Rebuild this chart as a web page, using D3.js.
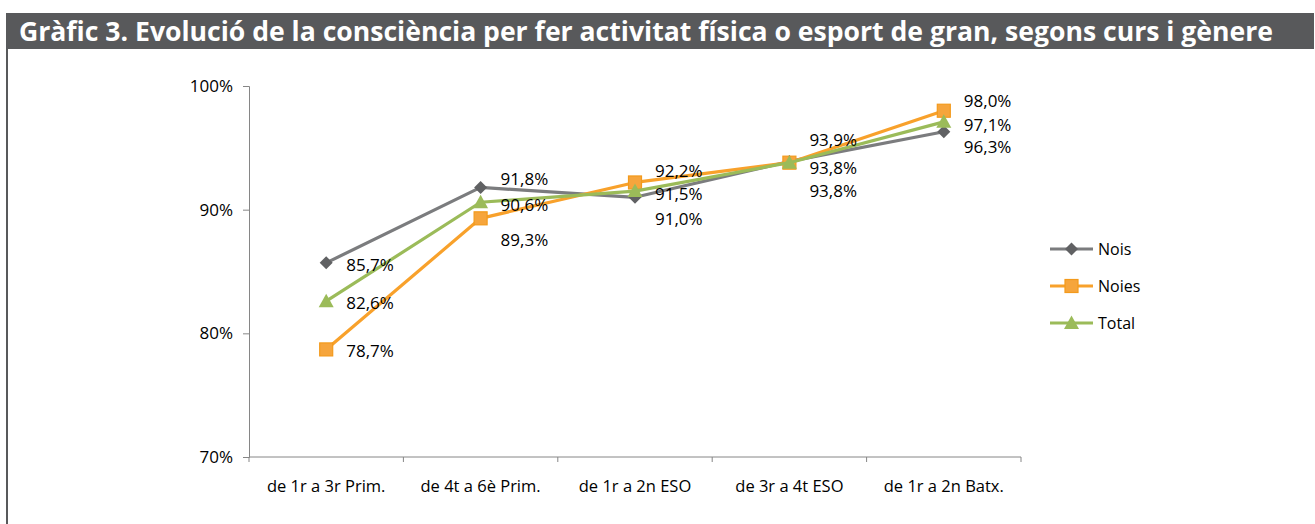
<!DOCTYPE html>
<html>
<head>
<meta charset="utf-8">
<script src="https://cdn.jsdelivr.net/npm/d3@7"></script>
<style>
  body { margin: 0; background: #fff; }
  svg { display: block; }
</style>
</head>
<body>
<script>
var width = 1315, height = 524;

var titleText = "Gràfic 3. Evolució de la consciència per fer activitat física o esport de gran, segons curs i gènere";
var cursos = ["de 1r a 3r Prim.", "de 4t a 6è Prim.", "de 1r a 2n ESO", "de 3r a 4t ESO", "de 1r a 2n Batx."];
var nois  = [85.7, 91.8, 91.0, 93.9, 96.3];
var noies = [78.7, 89.3, 92.2, 93.8, 98.0];
var total = [82.6, 90.6, 91.5, 93.8, 97.1];
var yTicks = [70, 80, 90, 100];

// vertical nudges of the value labels (px), so they don't sit on top of each other
var nudgeNois  = [2, -9, 22, -22, 15];
var nudgeNoies = [1, 22, -12, 5, -10];
var nudgeTotal = [2, 3, 3, 28, 3];

var series = [
  { name: "Nois",  values: nois,  nudge: nudgeNois,  line: "#7b7c7e", mark: "#606163", shape: "diamond" },
  { name: "Noies", values: noies, nudge: nudgeNoies, line: "#f8a12b", mark: "#f6a53c", shape: "square" },
  { name: "Total", values: total, nudge: nudgeTotal, line: "#9bbb59", mark: "#9bbb59", shape: "triangle" }
];

var svg = d3.select("body").append("svg")
    .attr("width", width)
    .attr("height", height);

// title bar + frame line
svg.append("rect")
    .attr("x", 6).attr("y", 13)
    .attr("width", 1308).attr("height", 36)
    .attr("fill", "#58595b");
svg.append("rect")
    .attr("x", 6).attr("y", 49)
    .attr("width", 2).attr("height", height - 49)
    .attr("fill", "#58595b");
svg.append("text")
    .attr("x", 19).attr("y", 41)
    .attr("fill", "#fff")
    .style("font-family", "'Open Sans', sans-serif")
    .style("font-weight", "bold")
    .style("font-size", "26px")
    .attr("textLength", 1254)
    .attr("lengthAdjust", "spacingAndGlyphs")
    .text(titleText);

var x = d3.scaleBand().domain(cursos).range([249, 1021]).padding(0);
var y = d3.scaleLinear().domain([70, 100]).range([457, 86]);

var font = "'Open Sans', sans-serif";

// y axis
var gy = svg.append("g").attr("transform", "translate(249,0)")
    .call(d3.axisLeft(y).tickValues(yTicks).tickSize(6).tickPadding(10)
      .tickFormat(function(d) { return d + "%"; }));
gy.select(".domain").attr("stroke", "#868686");
gy.selectAll(".tick line").attr("stroke", "#868686");
gy.selectAll("text").style("font-family", font).style("font-size", "17px").attr("fill", "#000");

// x axis (ticks on the category boundaries)
var gx = svg.append("g").attr("transform", "translate(0,457)");
gx.append("line").attr("x1", 249).attr("x2", 1021).attr("stroke", "#868686");
var bounds = cursos.map(function(c) { return x(c); }).concat([x.range()[1]]);
gx.selectAll(".xt").data(bounds).enter().append("line")
    .attr("x1", function(d) { return d; }).attr("x2", function(d) { return d; })
    .attr("y1", 0).attr("y2", 5).attr("stroke", "#868686");
gx.selectAll(".xl").data(cursos).enter().append("text")
    .attr("x", function(d) { return x(d) + x.bandwidth() / 2; })
    .attr("y", 35)
    .attr("text-anchor", "middle")
    .style("font-family", font).style("font-size", "16.5px")
    .attr("fill", "#000")
    .text(function(d) { return d; });

var cx = function(i) { return x(cursos[i]) + x.bandwidth() / 2; };

var line = d3.line()
    .x(function(d, i) { return cx(i); })
    .y(function(d) { return y(d); });

function drawMarker(g, shape, color, px, py) {
  if (shape === "diamond") {
    g.append("path")
      .attr("d", "M" + px + "," + (py - 6.5) + "L" + (px + 6.5) + "," + py + "L" + px + "," + (py + 6.5) + "L" + (px - 6.5) + "," + py + "Z")
      .attr("fill", color);
  } else if (shape === "square") {
    g.append("rect")
      .attr("x", px - 6.5).attr("y", py - 6.5).attr("width", 13).attr("height", 13)
      .attr("fill", color).attr("stroke", "#f39a1c").attr("stroke-width", 1.2);
  } else {
    g.append("path")
      .attr("d", "M" + px + "," + (py - 7.5) + "L" + (px + 7.5) + "," + (py + 6) + "L" + (px - 7.5) + "," + (py + 6) + "Z")
      .attr("fill", color);
  }
}

series.forEach(function(s) {
  var g = svg.append("g");
  g.append("path")
    .datum(s.values)
    .attr("d", line)
    .attr("fill", "none")
    .attr("stroke", s.line)
    .attr("stroke-width", 3.2)
    .attr("stroke-linejoin", "round");
  s.values.forEach(function(v, i) {
    drawMarker(g, s.shape, s.mark, cx(i), y(v));
  });
});

// value labels on top
series.forEach(function(s) {
  svg.append("g").selectAll("text").data(s.values).enter().append("text")
    .attr("x", function(d, i) { return cx(i) + 20; })
    .attr("y", function(d, i) { return y(d) + s.nudge[i]; })
    .attr("dy", "0.36em")
    .style("font-family", font).style("font-size", "17px")
    .attr("fill", "#000")
    .text(function(d) { return d.toFixed(1).replace(".", ",") + "%"; });
});

// legend
var leg = svg.append("g").attr("transform", "translate(1050,249)");
series.forEach(function(s, i) {
  var g = leg.append("g").attr("transform", "translate(0," + (i * 37) + ")");
  g.append("line").attr("x1", 0).attr("x2", 43)
    .attr("stroke", s.line).attr("stroke-width", 3.2);
  drawMarker(g, s.shape, s.mark, 21.5, 0);
  g.append("text").attr("x", 48).attr("dy", "0.35em")
    .style("font-family", font).style("font-size", "16px")
    .attr("fill", "#000")
    .text(s.name);
});
</script>
</body>
</html>
